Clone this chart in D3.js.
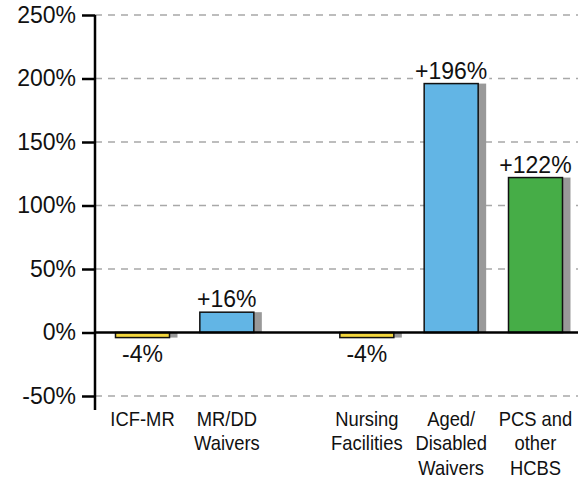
<!DOCTYPE html>
<html>
<head>
<meta charset="utf-8">
<script src="https://cdn.jsdelivr.net/npm/d3@7"></script>
<style>
    body { margin: 0; background: #fff; }
    text { font-family: "Liberation Sans", Arial, sans-serif; fill: #111; }
</style>
</head>
<body>
<div id="chart"></div>
<script>
// categories, grouping (gap between the two groups), values
let categories = [["ICF-MR"], ["MR/DD", "Waivers"], ["Nursing", "Facilities"], ["Aged/", "Disabled", "Waivers"], ["PCS and", "other", "HCBS"]];
let groups = ["A", "A", "B", "B", "B"];
let values = [-4, 16, -4, 196, 122];
let barColors = ["#f3d63c", "#62b5e5", "#f3d63c", "#62b5e5", "#46ad47"];
let tickValues = [-50, 0, 50, 100, 150, 200, 250];

let width = 584, height = 478;

let svg = d3.select("#chart")
    .append("svg")
    .attr("width", width)
    .attr("height", height);

let yScale = d3.scaleLinear()
    .domain([-50, 250])
    .range([396, 15]);

// slot index with extra space before second group
let slots = values.map((d, i) => i + (groups[i] == "B" ? 0.66 : 0));
let xScale = d3.scaleLinear()
    .domain([0, d3.max(slots)])
    .range([142.5, 535.5]);

let barWidth = 54;
let axisX = 95;

// grid lines
svg.append("g")
    .selectAll("line")
    .data(tickValues.filter(d => d != 0))
    .enter()
    .append("line")
    .attr("x1", axisX)
    .attr("x2", 578)
    .attr("y1", d => yScale(d))
    .attr("y2", d => yScale(d))
    .attr("stroke", "#a8a8a8")
    .attr("stroke-width", 1.5)
    .style("stroke-dasharray", "7,6")

// y axis
let yAxis = d3.axisLeft()
    .scale(yScale)
    .tickValues(tickValues)
    .tickSize(13)
    .tickPadding(6)
    .tickFormat(d => d + "%")

let axisG = svg.append("g")
    .attr("transform", "translate(" + axisX + ",0)")
    .call(yAxis)

axisG.select(".domain").remove()
axisG.selectAll(".tick line")
    .attr("stroke", "#000")
    .attr("stroke-width", 2.5)
axisG.selectAll(".tick text")
    .style("font-size", "23px")
    .attr("font-family", null)
    .attr("fill", "#111")

svg.append("line")
    .attr("x1", axisX)
    .attr("x2", axisX)
    .attr("y1", yScale(250))
    .attr("y2", 410)
    .attr("stroke", "#000")
    .attr("stroke-width", 2.5)

// shadows
svg.append("g")
    .selectAll("rect")
    .data(values)
    .enter()
    .append("rect")
    .attr("x", (d, i) => xScale(slots[i]) - barWidth / 2 + 8)
    .attr("y", d => yScale(Math.max(d, 0)))
    .attr("width", barWidth)
    .attr("height", d => Math.abs(yScale(d) - yScale(0)))
    .attr("fill", "#999")

// bars
svg.append("g")
    .selectAll("rect")
    .data(values)
    .enter()
    .append("rect")
    .attr("x", (d, i) => xScale(slots[i]) - barWidth / 2)
    .attr("y", d => yScale(Math.max(d, 0)))
    .attr("width", barWidth)
    .attr("height", d => Math.abs(yScale(d) - yScale(0)))
    .attr("fill", (d, i) => barColors[i])
    .attr("stroke", "#111")
    .attr("stroke-width", 1.5)

// zero line
svg.append("line")
    .attr("x1", axisX)
    .attr("x2", 578)
    .attr("y1", yScale(0))
    .attr("y2", yScale(0))
    .attr("stroke", "#000")
    .attr("stroke-width", 2.5)

// value labels with white backing
let labelG = svg.append("g")
let labels = labelG.selectAll("text")
    .data(values)
    .enter()
    .append("text")
    .text(d => (d > 0 ? "+" : "") + d + "%")
    .attr("x", (d, i) => xScale(slots[i]))
    .attr("y", d => d > 0 ? yScale(d) - 5 : yScale(d) + 24)
    .attr("text-anchor", "middle")
    .style("font-size", "23px")

labels.each(function() {
    let b = this.getBBox();
    labelG.insert("rect", "text")
        .attr("x", b.x - 2)
        .attr("y", b.y + 3)
        .attr("width", b.width + 4)
        .attr("height", b.height - 5)
        .attr("fill", "#fff")
})

// category labels (slightly condensed like the original face)
let catG = svg.append("g")
    .selectAll("text")
    .data(categories)
    .enter()
    .append("text")
    .attr("text-anchor", "middle")
    .style("font-size", "20px")
    .attr("transform", (d, i) => "translate(" + xScale(slots[i]) + ",426) scale(0.92,1)")

catG.selectAll("tspan")
    .data(d => d)
    .enter()
    .append("tspan")
    .attr("x", 0)
    .attr("y", (d, i) => i * 24.5)
    .text(d => d)
</script>
</body>
</html>
